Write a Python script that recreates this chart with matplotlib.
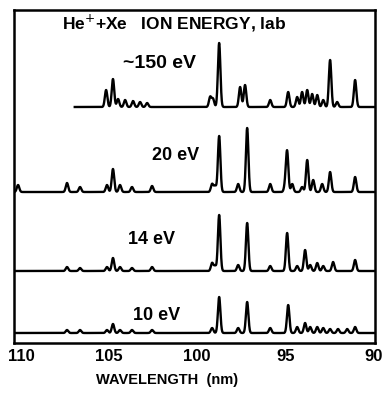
"""
He+ + Xe emission spectra at four ion energies (lab frame)
===========================================================
Stacked VUV spectra, wavelength axis reversed (110 -> 90 nm).
Peak centres / heights read from the scanned figure; heights are
in pixel-like units on a shared offset axis.

Output:
    out.png
"""
import numpy as np
import matplotlib
matplotlib.use('Agg')
import matplotlib.pyplot as plt

FONT = ['Liberation Sans', 'DejaVu Sans']
plt.rcParams['font.family'] = FONT

# ── data ──────────────────────────────────────────────────────────────────────
LABELS   = ['~150 eV', '20 eV', '14 eV', '10 eV']
OFFSETS  = [236, 151, 72, 10]            # baseline of each trace
START_NM = [106.95, 110.4, 110.4, 110.4]  # where each trace begins

# ~150 eV
pk150_nm = [105.17, 104.78, 104.49, 104.09, 103.64, 103.24, 102.84,
            99.26, 99.10, 98.75, 97.56, 97.28, 95.85,
            94.83, 94.32, 94.04, 93.75, 93.47, 93.18, 92.84,
            92.45, 92.05, 91.03]
pk150_h  = [17, 28, 8, 7, 6, 5, 4,
            10, 8, 64, 20, 22, 7,
            15, 10, 15, 17, 13, 12, 7,
            47, 5, 27]

# 20 eV
pk20_nm = [110.17, 107.39, 106.65, 105.12, 104.78, 104.38, 103.70, 102.56,
           99.15, 98.98, 98.75, 97.67, 97.16, 95.85,
           95.00, 94.89, 94.60, 94.04, 93.75, 93.41, 92.90,
           92.45, 91.03]
pk20_h  = [7, 9, 5, 7, 23, 7, 5, 6,
           8, 6, 56, 8, 64, 8,
           6, 40, 8, 5, 32, 12, 8,
           20, 15]

# 14 eV
pk14_nm = [107.39, 106.65, 105.12, 104.78, 104.38, 103.70, 102.56,
           99.15, 98.98, 98.75, 97.67, 97.16, 95.85,
           94.89, 94.32, 93.87, 93.58, 93.18, 92.84,
           92.28, 91.03]
pk14_h  = [4, 3, 4, 13, 4, 3, 4,
           8, 5, 56, 6, 48, 5,
           38, 5, 21, 6, 8, 5,
           9, 11]

# 10 eV
pk10_nm = [107.39, 106.65, 105.12, 104.78, 104.38, 103.70, 102.56,
           99.15, 98.75, 97.67, 97.16, 95.85,
           94.83, 94.32, 93.87, 93.58, 93.18, 92.84,
           92.45, 92.00, 91.48, 91.03]
pk10_h  = [3, 3, 3, 9, 3, 3, 3,
           5, 36, 5, 31, 5,
           28, 6, 10, 6, 6, 5,
           4, 4, 4, 6]

PEAKS = [(pk150_nm, pk150_h), (pk20_nm, pk20_h),
         (pk14_nm, pk14_h), (pk10_nm, pk10_h)]

XTICKS = [110, 105, 100, 95, 90]
XLIM   = (110.4, 89.9)
SIGMA  = 0.07   # line width, nm


def trace(centres, heights, start):
    """Sum of narrow gaussian lines on a fine grid from `start` to the right edge."""
    lam = np.arange(start, XLIM[1] - 0.005, -0.005)
    y = np.zeros_like(lam)
    for c, h in zip(centres, heights):
        y += h * np.exp(-0.5 * ((lam - c) / SIGMA) ** 2)
    return lam, y


# ── figure ────────────────────────────────────────────────────────────────────
fig = plt.figure(figsize=(3.83, 3.94), dpi=100)
ax = fig.add_axes([14 / 383, 51 / 394, 361 / 383, 333 / 394])

for (nm, h), off, start in zip(PEAKS, OFFSETS, START_NM):
    lam, y = trace(nm, h, start)
    ax.plot(lam, y + off, color='black', lw=1.7, solid_joinstyle='round')

ax.set_xlim(*XLIM)
ax.set_ylim(0, 333)
ax.set_yticks([])
ax.set_xticks(XTICKS)
ax.set_xticklabels([str(t) for t in XTICKS], fontsize=12, fontweight='bold')
ax.tick_params(axis='x', length=0, pad=4)
for sp in ax.spines.values():
    sp.set_linewidth(1.8)

# text annotations
ax.text(107.67, 320, 'He$^{+}$+Xe   ION ENERGY, lab', fontsize=12.5,
        fontweight='bold', va='center', ha='left')
label_pos = [(104.2, 280, 14), (102.56, 188, 13), (103.92, 103, 13), (103.64, 28, 13)]
for lab, (xl, yl, fs) in zip(LABELS, label_pos):
    ax.text(xl, yl, lab, fontsize=fs, fontweight='bold', va='center', ha='left')

fig.text(167 / 383, 1 - 380 / 394, 'WAVELENGTH  (nm)', fontsize=10.5,
         fontweight='bold', ha='center', va='center')

fig.savefig('out.png', dpi=100)
plt.close(fig)
